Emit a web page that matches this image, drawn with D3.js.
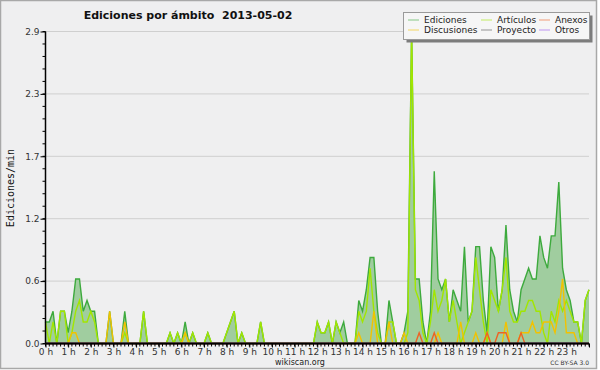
<!DOCTYPE html>
<html>
<head>
<meta charset="utf-8">
<script src="https://cdn.jsdelivr.net/npm/d3@7"></script>
<style>
    body { margin: 0; background: #ffffff; }
    svg text { font-family: "DejaVu Sans", sans-serif; }
</style>
</head>
<body>
<div id="chart"></div>
<script>
// chart data, one value every 10 minutes (edits per minute)
const chartTitle = 'Ediciones por ámbito  2013-05-02';
const yAxisTitle = 'Ediciones/min';
const hourLabels = ['0 h', '1 h', '2 h', '3 h', '4 h', '5 h', '6 h', '7 h', '8 h', '9 h', '10 h', '11 h',
    '12 h', '13 h', '14 h', '15 h', '16 h', '17 h', '18 h', '19 h', '20 h', '21 h', '22 h', '23 h'];
const yTickLabels = ['0.0', '0.6', '1.2', '1.7', '2.3', '2.9'];
const yMax = 2.9;
const slotMinutes = 10;

const seriesNames = ['Ediciones', 'Artículos', 'Anexos', 'Discusiones', 'Proyecto', 'Otros'];
const seriesColors = ['#3daa3d', '#a2e600', '#ee6224', '#f2c200', '#555555', '#9955ee'];

const ediciones = [
    0.2, 0.2, 0.3, 0, 0.3, 0.3, 0.1, 0.3, 0.6, 0.6,
    0.3, 0.4, 0.3, 0.3, 0, 0, 0, 0.3, 0, 0,
    0, 0.3, 0, 0, 0, 0, 0.3, 0, 0, 0,
    0, 0, 0, 0.1, 0, 0.1, 0, 0.2, 0, 0.1,
    0, 0, 0, 0.1, 0, 0, 0, 0, 0.1, 0.2,
    0.3, 0, 0.1, 0, 0, 0, 0, 0.2, 0, 0,
    0, 0, 0, 0, 0, 0, 0, 0, 0, 0,
    0, 0, 0.2, 0.1, 0.1, 0.2, 0, 0.2, 0.1, 0.2,
    0, 0, 0, 0.4, 0.3, 0.5, 0.8, 0.8, 0.3, 0,
    0, 0.4, 0.2, 0, 0, 0.1, 0.3, 2.9, 0.6, 0.6,
    0.2, 0, 0.3, 1.6, 0.6, 0.5, 0.6, 0.2, 0.5, 0.4,
    0.3, 0.9, 0.2, 0.3, 0.9, 0.9, 0.4, 0.1, 0.9, 0.8,
    0.3, 0.5, 1.1, 0.5, 0.3, 0.2, 0.5, 0.6, 0.7, 0.6,
    0.6, 1.0, 0.8, 0.7, 1.0, 1.0, 1.5, 0.7, 0.5, 0.4,
    0.2, 0.2, 0, 0.4, 0.5
];
const articulos = [
    0.2, 0, 0.2, 0, 0.3, 0.3, 0, 0.1, 0.3, 0.4,
    0.2, 0.2, 0.3, 0.2, 0, 0, 0, 0, 0, 0,
    0, 0.1, 0, 0, 0, 0, 0.3, 0, 0, 0,
    0, 0, 0, 0.1, 0, 0.1, 0, 0.1, 0, 0.1,
    0, 0, 0, 0.1, 0, 0, 0, 0, 0.1, 0.2,
    0.3, 0, 0.1, 0, 0, 0, 0, 0.2, 0, 0,
    0, 0, 0, 0, 0, 0, 0, 0, 0, 0,
    0, 0, 0.2, 0.1, 0.1, 0.2, 0, 0.2, 0.1, 0,
    0, 0, 0, 0.3, 0.2, 0.3, 0.7, 0.3, 0.1, 0,
    0, 0.2, 0.2, 0, 0, 0, 0.1, 2.9, 0.5, 0.4,
    0.1, 0, 0.2, 0.5, 0.3, 0.4, 0.6, 0.2, 0.4, 0.2,
    0, 0.1, 0.2, 0.3, 0.8, 0.5, 0.2, 0, 0.5, 0.4,
    0.3, 0.5, 0.8, 0.3, 0.2, 0.2, 0.3, 0.3, 0.4, 0.4,
    0.3, 0.3, 0.1, 0, 0.3, 0.2, 0.4, 0.3, 0.4, 0.3,
    0.2, 0.2, 0, 0.4, 0.5
];
const anexos = [
    0, 0, 0, 0, 0, 0, 0, 0, 0, 0,
    0, 0, 0, 0, 0, 0, 0, 0, 0, 0,
    0, 0, 0, 0, 0, 0, 0, 0, 0, 0,
    0, 0, 0, 0, 0, 0, 0, 0, 0, 0,
    0, 0, 0, 0, 0, 0, 0, 0, 0, 0,
    0, 0, 0, 0, 0, 0, 0, 0, 0, 0,
    0, 0, 0, 0, 0, 0, 0, 0, 0, 0,
    0, 0, 0, 0, 0, 0, 0, 0, 0, 0,
    0, 0, 0, 0, 0, 0, 0, 0, 0, 0,
    0, 0, 0, 0, 0, 0, 0, 0, 0, 0.1,
    0, 0, 0, 0.1, 0, 0, 0, 0, 0, 0,
    0, 0, 0, 0, 0, 0, 0, 0.1, 0, 0,
    0.1, 0.1, 0.1, 0, 0, 0, 0.1, 0, 0, 0,
    0, 0, 0, 0, 0, 0, 0, 0, 0, 0,
    0, 0, 0, 0, 0
];
const discusiones = [
    0, 0, 0, 0, 0, 0, 0, 0.1, 0.1, 0,
    0, 0, 0, 0, 0, 0, 0, 0.3, 0, 0,
    0, 0.2, 0, 0, 0, 0, 0, 0, 0, 0,
    0, 0, 0, 0, 0, 0, 0, 0.1, 0, 0,
    0, 0, 0, 0, 0, 0, 0, 0, 0, 0,
    0, 0, 0, 0, 0, 0, 0, 0, 0, 0,
    0, 0, 0, 0, 0, 0, 0, 0, 0, 0,
    0, 0, 0, 0, 0, 0, 0, 0, 0, 0,
    0, 0, 0, 0.1, 0, 0, 0, 0.3, 0, 0,
    0, 0.2, 0, 0, 0, 0.1, 0, 0, 0, 0,
    0, 0, 0, 0, 0.1, 0, 0, 0, 0, 0,
    0.2, 0, 0, 0, 0.1, 0, 0, 0.1, 0, 0,
    0, 0, 0.2, 0, 0, 0, 0.1, 0.1, 0.1, 0.2,
    0.1, 0.1, 0.2, 0.2, 0.2, 0.1, 0.3, 0.6, 0.1, 0.1,
    0.1, 0, 0, 0, 0
];
const proyecto = new Array(145).fill(0);
const otros = new Array(145).fill(0);

class AreaChart {

    constructor(_config) {
        this.config = {
            parentElement: _config.parentElement,
            containerWidth: _config.containerWidth || 600,
            containerHeight: _config.containerHeight || 370,
            margin: _config.margin || {top: 31.5, right: 11, bottom: 26.5, left: 45.5}
        };
        this.initVis();
    }

    initVis() {
        let vis = this;

        vis.width = vis.config.containerWidth - vis.config.margin.left - vis.config.margin.right;
        vis.height = vis.config.containerHeight - vis.config.margin.top - vis.config.margin.bottom;

        vis.svg = d3.select(vis.config.parentElement)
            .append('svg')
            .attr('width', vis.config.containerWidth)
            .attr('height', vis.config.containerHeight);

        // outer frame
        vis.svg.append('rect')
            .attr('x', 0.5).attr('y', 0.5)
            .attr('width', 596).attr('height', 368)
            .attr('fill', '#efeff0')
            .attr('stroke', '#a8a8a8')
            .attr('stroke-width', 1.5);

        vis.chart = vis.svg.append('g')
            .attr('transform', `translate(${vis.config.margin.left},${vis.config.margin.top})`);

        vis.xScale = d3.scaleLinear()
            .domain([0, 24 * 60])
            .range([0, vis.width]);

        vis.yScale = d3.scaleLinear()
            .domain([0, yMax])
            .range([vis.height, 0]);

        vis.yTicks = yTickLabels.map((label, i) => yMax * i / (yTickLabels.length - 1));

        // title (keeps the double space)
        vis.svg.append('text')
            .attr('x', 188)
            .attr('y', 18.5)
            .attr('text-anchor', 'middle')
            .attr('font-size', 11)
            .attr('font-weight', 'bold')
            .attr('fill', '#111')
            .style('white-space', 'pre')
            .text(chartTitle);

        vis.svg.append('text')
            .attr('transform', 'translate(13.5,188) rotate(-90)')
            .attr('text-anchor', 'middle')
            .style('font-family', '"DejaVu Sans Mono", monospace')
            .attr('font-size', 10)
            .attr('fill', '#111')
            .text(yAxisTitle);

        vis.svg.append('text')
            .attr('x', 300)
            .attr('y', 364.5)
            .attr('text-anchor', 'middle')
            .attr('font-size', 8)
            .attr('fill', '#222')
            .text('wikiscan.org');

        vis.svg.append('text')
            .attr('x', 589)
            .attr('y', 365)
            .attr('text-anchor', 'end')
            .attr('font-size', 6)
            .attr('fill', '#333')
            .text('CC BY-SA 3.0');
    }

    updateVis() {
        let vis = this;

        const cols = [ediciones, articulos, anexos, discusiones, proyecto, otros];
        vis.series = seriesNames.map((name, k) => ({
            name: name,
            color: seriesColors[k],
            values: cols[k].map((v, i) => ({t: i * slotMinutes, v: v}))
        }));

        vis.renderVis();
    }

    renderVis() {
        let vis = this;

        // horizontal grid lines
        vis.chart.selectAll('.grid')
            .data(vis.yTicks.slice(1))
            .join('line')
            .attr('class', 'grid')
            .attr('x1', 0).attr('x2', vis.width)
            .attr('y1', d => vis.yScale(d)).attr('y2', d => vis.yScale(d))
            .attr('stroke', '#cfcfcf')
            .attr('stroke-width', 1);

        const area = d3.area()
            .x(d => vis.xScale(d.t))
            .y0(vis.height)
            .y1(d => vis.yScale(d.v));

        const line = d3.line()
            .x(d => vis.xScale(d.t))
            .y(d => vis.yScale(d.v));

        vis.chart.append('path')
            .datum(vis.series[0].values)
            .attr('d', area)
            .attr('fill', '#a0cd9f');

        // draw order: total first, then the namespaces
        const order = [0, 1, 3, 2, 4, 5];
        vis.chart.selectAll('.serie')
            .data(order.map(k => vis.series[k]))
            .join('path')
            .attr('class', 'serie')
            .attr('d', d => line(d.values))
            .attr('fill', 'none')
            .attr('stroke', d => d.color)
            .attr('stroke-width', 1.4)
            .attr('stroke-linejoin', 'miter');

        // x axis: hour labels, a tick every 10 minutes
        vis.xAxis = d3.axisBottom(vis.xScale)
            .tickValues(d3.range(0, 24 * 60 + 1, 60))
            .tickFormat((d, i) => hourLabels[i] || '')
            .tickSize(4)
            .tickPadding(1);

        vis.xAxisMinor = d3.axisBottom(vis.xScale)
            .tickValues(d3.range(0, 24 * 60 + 1, slotMinutes))
            .tickFormat('')
            .tickSize(3)
            .tickSizeOuter(0)
            .offset(0);

        vis.yAxis = d3.axisLeft(vis.yScale)
            .tickValues(vis.yTicks)
            .tickFormat((d, i) => yTickLabels[i])
            .tickSize(5)
            .tickPadding(1)
            .tickSizeOuter(0);

        vis.yAxisMinor = d3.axisLeft(vis.yScale)
            .tickValues(d3.range(0, 26).map(i => yMax * i / 25))
            .tickFormat('')
            .tickSize(3)
            .tickSizeOuter(0)
            .offset(0);

        const minorX = vis.chart.append('g')
            .attr('transform', `translate(0,${vis.height})`)
            .call(vis.xAxisMinor);
        const majorX = vis.chart.append('g')
            .attr('transform', `translate(0,${vis.height})`)
            .call(vis.xAxis);
        majorX.select('.domain').remove();
        minorX.select('.domain')
            .attr('stroke-width', 2);

        const minorY = vis.chart.append('g').call(vis.yAxisMinor);
        const majorY = vis.chart.append('g').call(vis.yAxis);
        majorY.select('.domain').remove();
        minorY.select('.domain').attr('stroke-width', 1.5);

        vis.chart.selectAll('.tick text')
            .attr('font-size', 9)
            .attr('font-family', '"DejaVu Sans", sans-serif')
            .attr('fill', '#333');

        // legend
        const legend = vis.svg.append('g');
        legend.append('rect')
            .attr('x', 406.5).attr('y', 15.5)
            .attr('width', 186).attr('height', 27)
            .attr('fill', '#7c7c7c');
        legend.append('rect')
            .attr('x', 403.5).attr('y', 12.5)
            .attr('width', 186).attr('height', 27)
            .attr('fill', '#f6f6f6')
            .attr('stroke', '#9a9a9a');

        const colX = [408, 481, 539];
        const items = legend.selectAll('.item')
            .data(vis.series)
            .join('g')
            .attr('class', 'item')
            .attr('transform', (d, k) => `translate(${colX[k % 3]},${20 + 10 * Math.floor(k / 3)})`);
        items.append('line')
            .attr('x1', 0).attr('x2', 11)
            .attr('stroke', d => d.color)
            .attr('stroke-opacity', 0.6)
            .attr('stroke-width', 1);
        items.append('text')
            .attr('x', 16)
            .attr('y', 3.2)
            .attr('font-size', 9)
            .attr('fill', '#222')
            .text(d => d.name);
    }
}

const chart = new AreaChart({parentElement: '#chart'});
chart.updateVis();
</script>
</body>
</html>
